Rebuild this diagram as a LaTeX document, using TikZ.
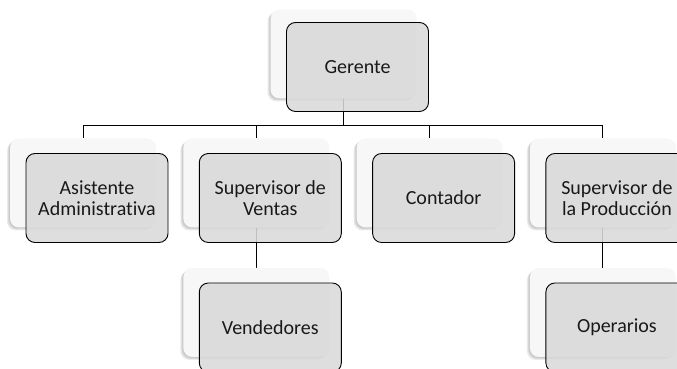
\documentclass[tikz,border=0pt]{standalone}
\usepackage{fontspec}
\setmainfont{Carlito}[Ligatures=NoCommon]
\usetikzlibrary{backgrounds,shadows}

\tikzset{
  backbox/.style={rectangle,rounded corners=9pt,minimum width=146pt,minimum height=89pt,
    fill=black!3,draw=none,
    general shadow={fill=black,opacity=.08,shadow xshift=-1pt,shadow yshift=-1pt},
    general shadow={fill=black,opacity=.08,shadow xshift=-2pt,shadow yshift=-2pt},
    general shadow={fill=black,opacity=.08,shadow xshift=-3pt,shadow yshift=-3pt}},
  frontbox/.style={rectangle,rounded corners=9pt,minimum width=142pt,minimum height=89pt,
    draw=black,line width=0.9pt,fill=black!15,fill opacity=0.88,text opacity=1,
    align=center,text=black!90,font=\fontsize{20}{21}\selectfont},
  link/.style={black,line width=0.9pt}
}

\begin{document}
\begin{tikzpicture}[x=1pt,y=1pt]

  \useasboundingbox (0,0) rectangle (677,369);

  \node (GER-b) at (343.5,315) [backbox] {};
  \node (GER) at (357.5,302) [frontbox] {Gerente};

  \foreach \n/\x/\t in {ASI/83/{Asistente\\Administrativa},SVE/256.3/{Supervisor de\\Ventas},CON/429.6/Contador,SPR/602.9/{Supervisor de\\la Producción}} {
    \node (\n-b) at (\x,186) [backbox] {};
    \node (\n) at (\x+14,171) [frontbox] {\t};
  }

  \node (VEN-b) at (256.3,56.5) [backbox] {};
  \node (VEN) at (270.3,41.5) [frontbox] {Vendedores};
  \node (OPE-b) at (602.9,56.5) [backbox] {};
  \node (OPE) at (616.9,41.5) [frontbox] {Operarios};

  \coordinate (BUS) at (343.5,244);

  \begin{scope}[on background layer]
    \draw[link] (GER-b.south) -- (BUS);
    \foreach \n in {ASI,SVE,CON,SPR} {
      \draw[link] (BUS) -| (\n-b.north);
    }
    \draw[link] (SVE-b) -- (VEN-b);
    \draw[link] (SPR-b) -- (OPE-b);
  \end{scope}

\end{tikzpicture}
\end{document}
